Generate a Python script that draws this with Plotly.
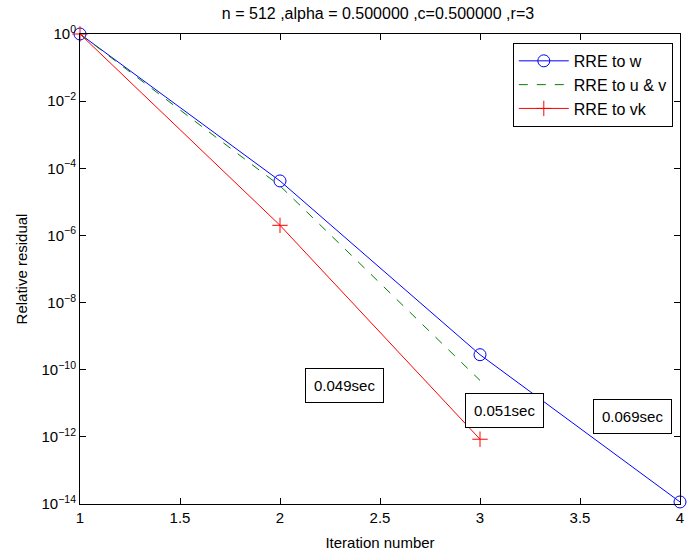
import math
import plotly.graph_objects as go

# Iterations and relative residuals for each extrapolation variant
iter_w = [1, 2, 3, 4]
res_w = [1.0, 4.2e-5, 2.8e-10, 1.15e-14]

iter_uv = [1, 2, 3]
res_uv = [1.0, 3.0e-5, 4.8e-11]

iter_vk = [1, 2, 3]
res_vk = [1.0, 2.0e-6, 8.5e-13]

# Timing labels and their positions (data coordinates)
time_labels = ["0.049sec", "0.051sec", "0.069sec"]
time_x = [2.32, 3.12, 3.76]
time_y = [3.5e-11, 6.0e-12, 4.0e-12]

ytick_exp = [0, -2, -4, -6, -8, -10, -12, -14]
xtick_vals = [1, 1.5, 2, 2.5, 3, 3.5, 4]
xtick_text = ["1", "1.5", "2", "2.5", "3", "3.5", "4"]

FONT = "Liberation Sans, Arial, Helvetica, sans-serif"

fig = go.Figure()
fig.add_trace(go.Scatter(
    x=iter_w, y=res_w, name="RRE to w", mode="lines+markers", cliponaxis=False,
    line=dict(color="rgb(0,0,255)", width=1),
    marker=dict(symbol="circle-open", size=12, color="rgb(0,0,255)", line=dict(width=1)),
))
fig.add_trace(go.Scatter(
    x=iter_uv, y=res_uv, name="RRE to u & v", mode="lines", cliponaxis=False,
    line=dict(color="rgb(0,128,0)", width=1, dash="dash"),
))
fig.add_trace(go.Scatter(
    x=iter_vk, y=res_vk, name="RRE to vk", mode="lines+markers", cliponaxis=False,
    line=dict(color="rgb(255,0,0)", width=1),
    marker=dict(symbol="cross-thin-open", size=11, color="rgb(255,0,0)",
                line=dict(width=1, color="rgb(255,0,0)")),
))

# On a log axis, annotation positions are given in log10 units
for txt, x, y in zip(time_labels, time_x, time_y):
    fig.add_annotation(
        x=x, y=math.log10(y), yref="y", xref="x", text=txt, showarrow=False,
        font=dict(family=FONT, size=15, color="black"),
        bordercolor="black", borderwidth=1, borderpad=8, bgcolor="white",
    )

fig.update_layout(
    width=693, height=558,
    margin=dict(l=80, r=9, t=34, b=53),
    paper_bgcolor="white", plot_bgcolor="white",
    font=dict(family=FONT, size=14, color="black"),
    title=dict(text="n = 512 ,alpha = 0.500000 ,c=0.500000 ,r=3",
               x=378 / 693, xanchor="center", y=1 - 13 / 558, yanchor="middle",
               font=dict(family=FONT, size=16)),
    showlegend=True,
    legend=dict(x=0.988, y=0.981, xanchor="right", yanchor="top",
                bordercolor="black", borderwidth=1, bgcolor="white",
                font=dict(family=FONT, size=16), tracegroupgap=0,
                itemwidth=50),
)

fig.update_xaxes(
    range=[1, 4], tickvals=xtick_vals, ticktext=xtick_text,
    showline=True, linecolor="black", linewidth=1, mirror="ticks",
    ticks="inside", ticklen=6, tickcolor="black", showgrid=False, zeroline=False,
    title=dict(text="Iteration number", font=dict(family=FONT, size=15), standoff=12),
    tickfont=dict(family=FONT, size=15),
)
fig.update_yaxes(
    type="log", range=[-14, 0],
    tickvals=[10 ** e for e in ytick_exp],
    ticktext=["10<sup>%s</sup>" % (str(e) if e >= 0 else "\u2212" + str(-e)) for e in ytick_exp],
    showline=True, linecolor="black", linewidth=1, mirror="ticks",
    ticks="inside", ticklen=6, tickcolor="black", showgrid=False, zeroline=False,
    title=dict(text="Relative residual", font=dict(family=FONT, size=15), standoff=10),
    tickfont=dict(family=FONT, size=15),
)

fig.write_html("out.html")
